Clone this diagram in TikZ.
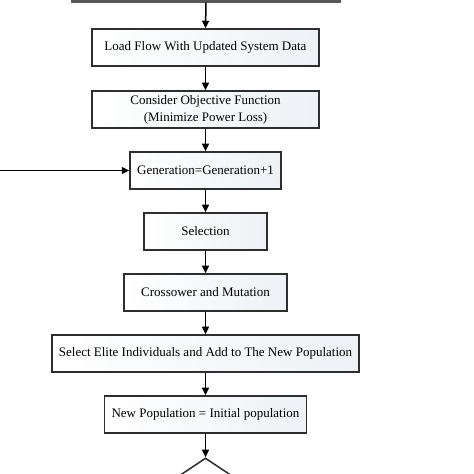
\documentclass[tikz,border=0pt]{standalone}
\usepackage{fontspec}
\setmainfont{Liberation Serif}
\usetikzlibrary{shapes.geometric,arrows.meta}
\definecolor{edge}{HTML}{2E2E2E}
\definecolor{boxr}{HTML}{EEF1F5}
\tikzset{
  stepbox/.style={draw=edge, line width=1.5pt, left color=white, right color=boxr, shading angle=90,
    minimum height=37pt, inner sep=0pt, font=\fontsize{13}{15}\selectfont, align=center, text=black},
  conn/.style={draw=black, line width=1.5pt, -{Triangle[length=7.5pt,width=7pt]}}
}
\begin{document}
\begin{tikzpicture}[x=1pt,y=1pt]
\useasboundingbox (0,0) rectangle (474,474);
\clip (0,0) rectangle (474,474);
\fill[white] (0,0) rectangle (474,474);
\node[draw=edge!80, line width=2.6pt, fill=white, minimum width=268pt, minimum height=40pt, inner sep=0pt] (top) at (206,492.7) {};
\node[stepbox, minimum width=227pt] (b1) at (205.5,426.5) {Load Flow With Updated System Data};
\node[stepbox, minimum width=227pt, font=\fontsize{13}{17}\selectfont] (b2) at (205.5,364.5) {Consider Objective Function\\(Minimize Power Loss)};
\node[stepbox, minimum width=151pt] (b3) at (205.5,303.5) {Generation=Generation+1};
\node[stepbox, minimum width=123pt] (b4) at (205.5,242.5) {Selection};
\node[stepbox, minimum width=163pt] (b5) at (205.5,181.5) {Crossower and Mutation};
\node[stepbox, minimum width=307pt] (b6) at (205.5,120.5) {Select Elite Individuals and Add to The New Population};
\node[stepbox, minimum width=202pt] (b7) at (205.5,59.5) {New Population = Initial population};
\node[draw=edge, line width=1.5pt, fill=white, diamond, aspect=1.5, minimum width=90pt, minimum height=60pt, inner sep=0pt] (d) at (205.5,-14) {};
\coordinate (lin) at (0,303.5);
\draw[conn] (top.south) -- (b1.north);
\draw[conn] (b1) -- (b2);
\draw[conn] (b2) -- (b3);
\draw[conn] (b3) -- (b4);
\draw[conn] (b4) -- (b5);
\draw[conn] (b5) -- (b6);
\draw[conn] (b6) -- (b7);
\draw[conn] (b7) -- (d.north);
\draw[conn] (lin) -- (b3.west);
\end{tikzpicture}
\end{document}
